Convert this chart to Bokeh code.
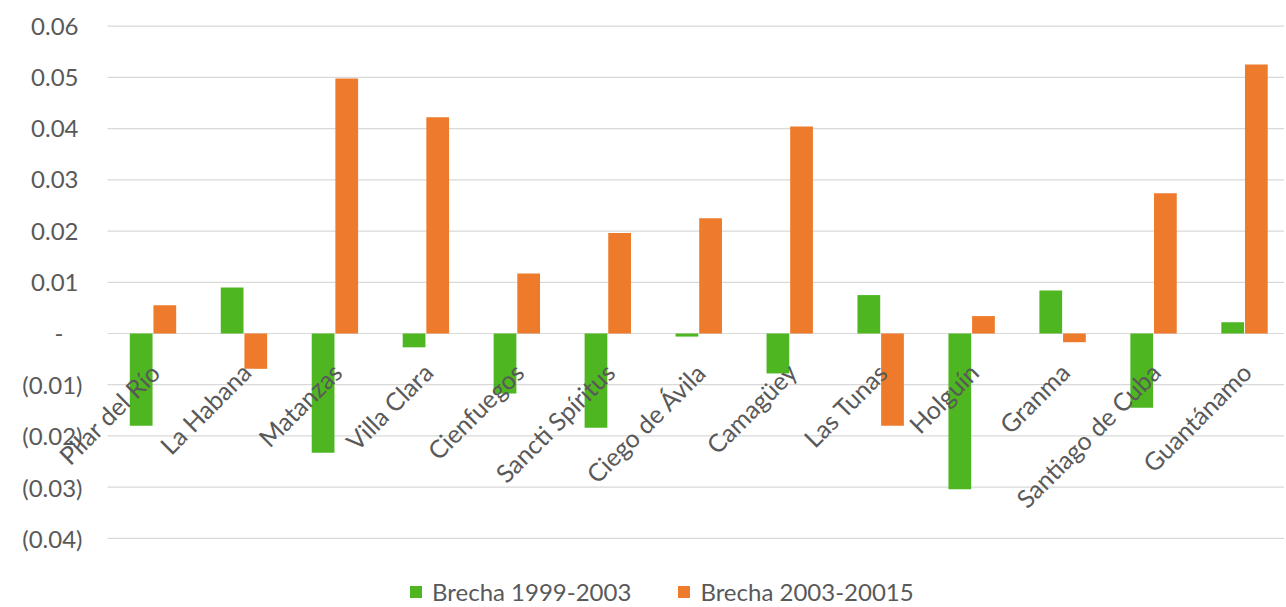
from bokeh.plotting import figure
from bokeh.models import ColumnDataSource, Range1d, Legend, LegendItem
from bokeh.core.properties import value
from bokeh.transform import dodge
from bokeh.embed import file_html
from bokeh.resources import INLINE
import numpy as np

provinces = ["Pilar del Río", "La Habana", "Matanzas", "Villa Clara", "Cienfuegos",
             "Sancti Spíritus", "Ciego de Ávila", "Camagüey", "Las Tunas", "Holguín",
             "Granma", "Santiago de Cuba", "Guantánamo"]
brecha_1999_2003 = [-0.0180, 0.0090, -0.0233, -0.0027, -0.0117, -0.0184, -0.0006,
                    -0.0078, 0.0075, -0.0304, 0.0084, -0.0145, 0.0022]
brecha_2003_20015 = [0.0055, -0.0069, 0.0498, 0.0422, 0.0117, 0.0196, 0.0225,
                     0.0404, -0.0180, 0.0034, -0.0017, 0.0274, 0.0525]
series_names = ["Brecha 1999-2003", "Brecha 2003-20015"]
y_ticks = [-0.04, -0.03, -0.02, -0.01, 0.0, 0.01, 0.02, 0.03, 0.04, 0.05, 0.06]


def fmt(t):
    # Excel accounting style: negatives in parentheses, zero as a dash
    if abs(t) < 1e-12:
        return "-"
    if t < 0:
        return "(%.2f)" % (-t)
    return "%.2f" % t


y_tick_labels = [fmt(t) for t in y_ticks]

GREEN = "#4db620"
ORANGE = "#ee7b2c"
TEXT = "#595959"
GRID = "#d9d9d9"
FONT = value("Lato")

# layout (screen pixels)
W, H = 1284, 607
PX_PER_CAT = 90.96
CAT0_PX = 152.5          # screen x of first category centre
PX_PER_UNIT = 5122.0     # screen px per 1.0 of value
ZERO_PX = 333.0          # screen y of the zero line

x_start = -CAT0_PX / PX_PER_CAT
x_end = x_start + W / PX_PER_CAT
y_end = ZERO_PX / PX_PER_UNIT
y_start = y_end - H / PX_PER_UNIT

n = len(provinces)
idx = np.arange(n)
src = ColumnDataSource(dict(x=idx, prov=provinces, a=brecha_1999_2003, b=brecha_2003_20015,
                            zero=[0.0] * n))

p = figure(width=W, height=H, output_backend="svg", toolbar_location=None,
           x_range=Range1d(x_start, x_end), y_range=Range1d(y_start, y_end),
           x_axis_location=None, y_axis_location=None,
           min_border=0, min_border_left=0, min_border_right=0,
           min_border_top=0, min_border_bottom=0)
p.outline_line_color = None
p.background_fill_color = "white"
p.border_fill_color = "white"
p.grid.visible = False

# horizontal gridlines at the value ticks, starting at the category axis start
gx0 = -0.5
p.segment(x0=[gx0] * len(y_ticks), x1=[x_end] * len(y_ticks), y0=y_ticks, y1=y_ticks,
          line_color=GRID, line_width=1.2)

# value-axis tick labels
xoff = [-25 if t < -1e-12 else (-44 if abs(t) < 1e-12 else -29) for t in y_ticks]
ysrc = ColumnDataSource(dict(x=[gx0] * len(y_ticks), y=y_ticks, t=y_tick_labels, xo=xoff))
p.text(x="x", y="y", text="t", x_offset="xo", source=ysrc, text_align="right",
       text_baseline="middle", text_font=FONT, text_font_size="24px", text_color=TEXT)

r1 = p.vbar(x=dodge("x", -0.13), top="a", bottom="zero", width=0.25, source=src,
            fill_color=GREEN, line_color=None)
r2 = p.vbar(x=dodge("x", 0.13), top="b", bottom="zero", width=0.25, source=src,
            fill_color=ORANGE, line_color=None)

# category labels, rotated, hanging below the zero line
p.text(x="x", y="zero", text="prov", source=src, angle=np.pi / 4,
       text_align="right", text_baseline="middle", x_offset=2, y_offset=34,
       text_font=FONT, text_font_size="25px", text_color=TEXT)

legend = Legend(items=[LegendItem(label=series_names[0], renderers=[r1]),
                       LegendItem(label=series_names[1], renderers=[r2])],
                orientation="horizontal", location=(408, 1),
                padding=0, margin=0, spacing=45, border_line_alpha=0,
                background_fill_alpha=0, glyph_width=15, glyph_height=15,
                label_standoff=9, label_text_font="Lato", label_text_font_size="24px",
                label_text_color=TEXT)
p.add_layout(legend, "center")

open("out.html", "w").write(file_html(p, INLINE))
